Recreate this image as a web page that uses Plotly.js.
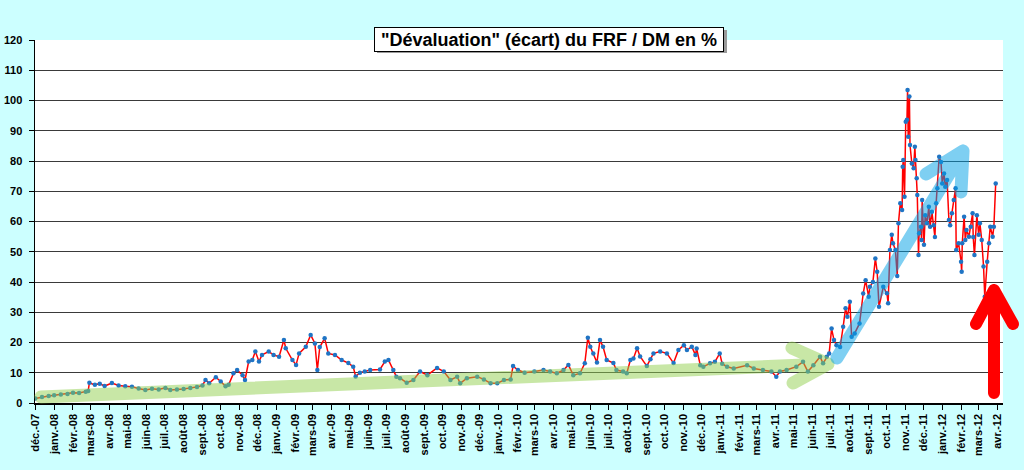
<!DOCTYPE html>
<html>
<head>
<meta charset="utf-8">
<script src="https://cdn.plot.ly/plotly-3.0.1.min.js"></script>
<style>
html,body{margin:0;padding:0;background:#CCFFFF;}
#chart{width:1024px;height:470px;}
.shapelayer path{stroke-linecap:round !important;stroke-linejoin:round !important;}
</style>
</head>
<body>
<div id="chart"></div>
<script>
// ---- data ----
const dates = [
"2007-12-01","2007-12-12","2007-12-23","2008-01-01","2008-01-12","2008-01-23","2008-02-01","2008-02-11","2008-02-22","2008-02-26",
"2008-02-28","2008-03-08","2008-03-16","2008-03-24","2008-04-05","2008-04-16","2008-04-27","2008-05-08","2008-05-19","2008-05-30",
"2008-06-10","2008-06-21","2008-07-02","2008-07-10","2008-07-21","2008-08-01","2008-08-12","2008-08-23","2008-09-01","2008-09-06",
"2008-09-12","2008-09-23","2008-10-01","2008-10-09","2008-10-14","2008-10-22","2008-10-28","2008-11-06","2008-11-10","2008-11-16",
"2008-11-22","2008-11-27","2008-12-03","2008-12-08","2008-12-19","2008-12-27","2009-01-05","2009-01-13","2009-01-16","2009-01-27",
"2009-02-02","2009-02-07","2009-02-18","2009-02-26","2009-03-05","2009-03-09","2009-03-13","2009-03-21","2009-03-27","2009-04-07",
"2009-04-18","2009-04-29","2009-05-07","2009-05-11","2009-05-18","2009-05-26","2009-06-04","2009-06-20","2009-06-28","2009-07-04",
"2009-07-12","2009-07-17","2009-07-23","2009-08-03","2009-08-14","2009-08-25","2009-09-06","2009-09-22","2009-10-03","2009-10-14",
"2009-10-25","2009-10-30","2009-11-10","2009-11-27","2009-12-08","2009-12-19","2009-12-30","2010-01-10","2010-01-21","2010-01-25",
"2010-02-02","2010-02-13","2010-03-01","2010-03-16","2010-03-27","2010-04-07","2010-04-18","2010-04-26","2010-05-04","2010-05-15",
"2010-05-23","2010-05-28","2010-06-01","2010-06-06","2010-06-12","2010-06-17","2010-06-22","2010-06-28","2010-07-09","2010-07-14",
"2010-07-25","2010-07-31","2010-08-06","2010-08-11","2010-08-17","2010-08-22","2010-09-02","2010-09-08","2010-09-13","2010-09-24",
"2010-10-05","2010-10-16","2010-10-24","2010-11-02","2010-11-07","2010-11-15","2010-11-21","2010-11-23","2010-11-29","2010-12-04",
"2010-12-15","2010-12-23","2010-12-31","2011-01-04","2011-01-12","2011-01-23","2011-02-14","2011-02-25","2011-03-12","2011-03-26",
"2011-04-03","2011-04-09","2011-04-20","2011-05-06","2011-05-17","2011-05-25","2011-06-03","2011-06-14","2011-06-19","2011-06-25",
"2011-06-29","2011-07-03","2011-07-07","2011-07-11","2011-07-17","2011-07-22","2011-07-26","2011-07-29","2011-08-02","2011-08-05",
"2011-08-10","2011-08-18","2011-08-24","2011-08-28","2011-09-02","2011-09-04","2011-09-09","2011-09-13","2011-09-16","2011-09-19",
"2011-09-26","2011-10-02","2011-10-04","2011-10-07","2011-10-10","2011-10-12","2011-10-16","2011-10-19","2011-10-21","2011-10-24",
"2011-10-27","2011-10-28","2011-10-29","2011-10-31","2011-11-02","2011-11-04","2011-11-05","2011-11-06","2011-11-08","2011-11-09",
"2011-11-12","2011-11-15","2011-11-17","2011-11-18","2011-11-20","2011-11-21","2011-11-23","2011-11-24","2011-11-27","2011-11-28",
"2011-11-29","2011-12-02","2011-12-04","2011-12-07","2011-12-10","2011-12-12","2011-12-15","2011-12-18","2011-12-20","2011-12-22",
"2011-12-24","2011-12-27","2011-12-30","2012-01-01","2012-01-04","2012-01-06","2012-01-09","2012-01-12","2012-01-14","2012-01-17",
"2012-01-20","2012-01-23","2012-01-24","2012-01-28","2012-02-01","2012-02-02","2012-02-03","2012-02-06","2012-02-08","2012-02-10",
"2012-02-14","2012-02-17","2012-02-20","2012-02-21","2012-02-23","2012-02-27","2012-03-01","2012-03-03","2012-03-06","2012-03-09",
"2012-03-11","2012-03-15","2012-03-18","2012-03-20","2012-03-24","2012-03-26","2012-03-29"
];
const ecart = [
1.5,2.0,2.3,2.6,2.8,3.0,3.4,3.3,3.7,4.0,
6.7,6.0,6.4,5.6,6.6,5.8,5.5,5.4,4.8,4.3,
4.7,4.5,5.0,4.3,4.5,4.6,5.0,5.3,5.8,7.6,
6.5,8.5,7.1,5.5,6.0,9.8,10.9,9.2,7.6,13.7,
14.2,17.0,13.7,15.9,17.0,15.9,15.3,20.8,18.1,14.2,
12.6,16.4,18.6,22.5,19.7,10.9,18.5,21.4,16.4,15.9,
14.2,13.2,12.0,8.8,10.0,10.4,10.9,11.1,13.7,14.2,
10.9,8.7,8.2,6.7,7.6,10.4,9.2,11.6,10.4,7.6,
8.7,6.5,8.2,8.7,7.8,6.5,6.5,7.6,7.8,12.2,
10.9,10.0,10.4,10.9,10.4,9.8,10.9,12.6,9.2,9.8,
13.1,21.6,18.6,16.4,13.4,20.8,18.6,14.2,13.2,10.9,
10.4,9.8,14.2,14.7,18.1,15.4,12.2,14.5,16.4,17.0,
16.4,13.2,17.5,19.1,17.5,18.6,15.9,18.0,12.5,12.0,
13.1,13.6,16.4,13.0,12.0,11.4,12.5,11.4,10.9,10.4,
8.7,10.4,10.9,12.0,13.6,10.4,12.5,15.3,13.1,15.3,
16.4,24.6,20.8,19.1,18.5,25.2,31.3,28.5,33.5,21.9,
23.0,26.3,36.2,40.6,35.1,38.4,40.0,47.8,43.4,31.8,
38.4,36.3,33.0,50.6,55.6,52.8,50.6,42.0,59.4,66.0,
63.8,78.1,80.3,68.2,93.0,93.6,103.5,88.0,101.3,85.3,
79.2,77.6,84.7,80.3,74.3,68.8,48.9,56.1,58.3,53.9,
67.1,52.3,62.1,59.4,64.9,58.3,63.2,58.8,54.9,66.0,
71.0,81.4,79.7,72.6,75.9,71.5,73.7,60.5,58.8,62.7,
67.1,71.0,50.6,52.8,46.7,43.4,52.8,61.6,53.9,57.2,
55.0,58.3,62.7,54.9,48.9,62.1,55.6,59.4,53.9,45.1,
35.1,46.7,52.8,58.3,55.0,58.3,72.6
];
const monthNames = ["janv.","févr.","mars","avr.","mai","juin","juil.","août","sept.","oct.","nov.","déc."];
const firstTick = {year: 2007, month: 11}; // déc.-07
const tickCount = 53;                     // déc.-07 ... avr.-12
const yTicks = [0,10,20,30,40,50,60,70,80,90,100,110,120];
const titleText = '"Dévaluation" (écart) du FRF / DM en %';

// ---- month ticks ----
const tickVals = [], tickText = [];
for (let i = 0; i < tickCount; i++) {
  const mi = firstTick.month + i;
  const y = firstTick.year + Math.floor(mi / 12);
  const m = mi % 12;
  tickVals.push(y + "-" + String(m + 1).padStart(2, "0") + "-01");
  tickText.push(monthNames[m] + "-" + String(y % 100).padStart(2, "0"));
}

// ---- layout geometry (pixels) ----
const W = 1024, H = 470;
const L = 35, R = 1003, T = 40, B = 403;
function P(px, py) { return [(px - L) / (R - L), (B - py) / (B - T)]; }
function pathOf(segs) {
  return segs.map(seg => seg.map((pt, i) => {
    const p = P(pt[0], pt[1]);
    return (i === 0 ? "M" : "L") + p[0].toFixed(4) + "," + p[1].toFixed(4);
  }).join(" ")).join(" ");
}

const greenArrow = pathOf([
  [[41, 397], [828, 364]],
  [[792, 348], [828, 364], [793, 383]]
]);
const blueArrow = pathOf([
  [[837, 358], [963, 151]],
  [[926, 174], [963, 151], [961, 192]]
]);
const redArrow = pathOf([
  [[994, 393], [994, 290]],
  [[976, 324], [994, 290], [1013, 324]]
]);
const sh0 = P(377, 53), sh1 = P(727, 30);
const tc = P(549, 39);

const trace = {
  x: dates, y: ecart, type: "scatter", mode: "lines+markers",
  line: {color: "#FF0000", width: 1.5},
  marker: {color: "#1F74C4", size: 4.5},
  hoverinfo: "x+y"
};

const font = {family: "Liberation Sans, Arial, sans-serif", size: 11, color: "#000", weight: "bold"};

const layout = {
  width: W, height: H,
  margin: {l: L, r: W - R, t: T, b: H - B, pad: 0},
  paper_bgcolor: "#CCFFFF", plot_bgcolor: "#FFFFFF",
  showlegend: false,
  font: font,
  xaxis: {
    type: "date", range: ["2007-11-30 12:00", "2012-04-10"],
    tickmode: "array", tickvals: tickVals, ticktext: tickText,
    tickangle: -90, ticks: "outside", ticklen: 5, tickcolor: "#000", tickwidth: 1,
    showgrid: false, showline: true, linecolor: "#000", linewidth: 1.5,
    tickfont: font, zeroline: false, fixedrange: true
  },
  yaxis: {
    range: [0, 120], tickmode: "array", tickvals: yTicks,
    ticks: "outside", ticklen: 5, tickcolor: "#000",
    showgrid: true, gridcolor: "#3a3a3a", gridwidth: 1,
    showline: true, linecolor: "#000", linewidth: 1.5,
    tickfont: font, zeroline: false, ticklabelstandoff: 4, fixedrange: true
  },
  shapes: [
    {type: "path", xref: "paper", yref: "paper", path: greenArrow,
     line: {color: "#92D050", width: 13}, opacity: 0.5, layer: "above"},
    {type: "path", xref: "paper", yref: "paper", path: blueArrow,
     line: {color: "#00A0E6", width: 13}, opacity: 0.5, layer: "above"},
    {type: "path", xref: "paper", yref: "paper", path: redArrow,
     line: {color: "#FF0000", width: 12}, opacity: 1, layer: "above"},
    {type: "rect", xref: "paper", yref: "paper", x0: sh0[0], y0: sh0[1], x1: sh1[0], y1: sh1[1],
     line: {width: 0}, fillcolor: "#9a9a9a", layer: "above"}
  ],
  annotations: [
    {text: titleText, xref: "paper", yref: "paper", x: tc[0], y: tc[1],
     xanchor: "center", yanchor: "middle", showarrow: false,
     width: 346, height: 21, align: "center",
     font: {family: font.family, size: 18, weight: "bold", color: "#000"},
     bgcolor: "#FFFFFF", bordercolor: "#000", borderwidth: 1, borderpad: 1}
  ]
};

Plotly.newPlot("chart", [trace], layout, {displayModeBar: false, staticPlot: true});
</script>
</body>
</html>
